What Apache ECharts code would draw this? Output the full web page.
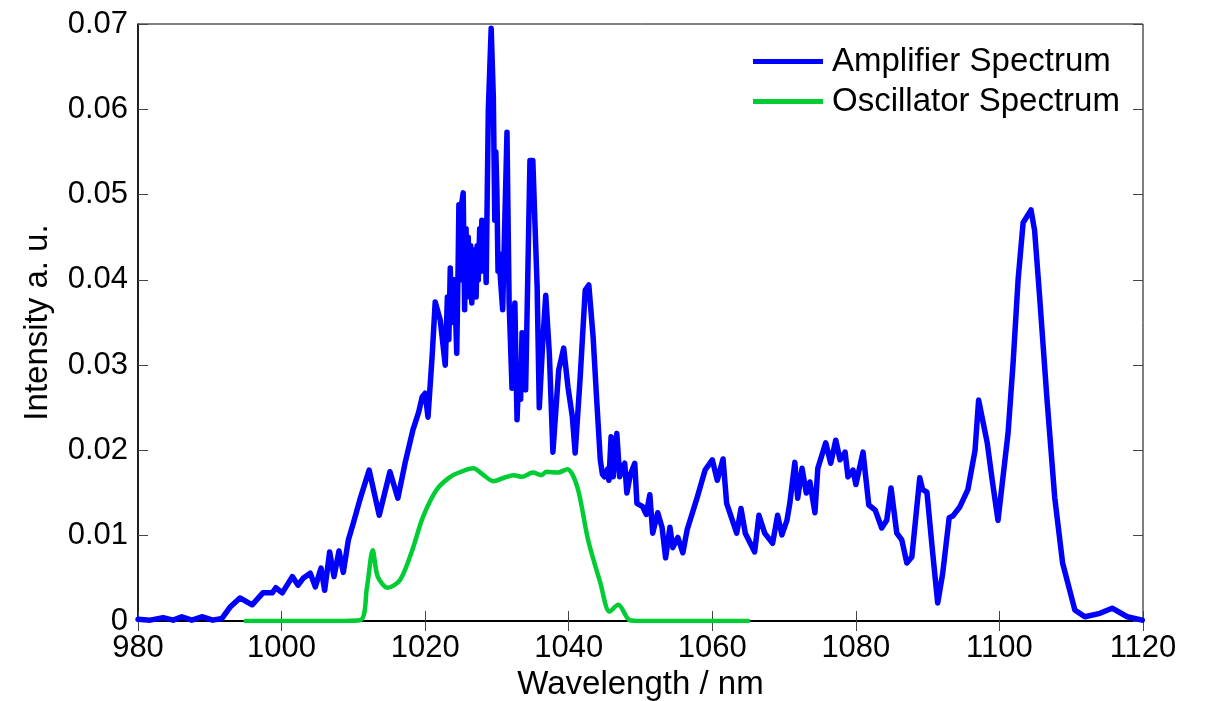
<!DOCTYPE html>
<html>
<head>
<meta charset="utf-8">
<script src="https://cdn.jsdelivr.net/npm/echarts@6/dist/echarts.min.js"></script>
<style>
  html, body { margin: 0; padding: 0; background: #fff; }
  #chart { width: 1212px; height: 701px; }
</style>
</head>
<body>
<div id="chart"></div>
<script>
// amplifier spectrum: [wavelength nm, intensity]
const ampSpectrum = [
  [980, 0.0002], [981.7, 0.0001], [983.5, 0.0004], [984.9, 0.0001], [986.1, 0.0005],
  [987.5, 0.0001], [988.9, 0.0005], [990.4, 0.0001], [991.7, 0.0003], [992.8, 0.0016],
  [994.2, 0.0027], [995.9, 0.0019], [997.4, 0.0033], [998.7, 0.0033], [999.2, 0.0039],
  [1000.1, 0.0033], [1001.5, 0.0052], [1002.3, 0.0042], [1003, 0.005], [1004, 0.0056],
  [1004.7, 0.004], [1005.5, 0.0062], [1006, 0.0036], [1006.7, 0.0081], [1007.3, 0.0052],
  [1008, 0.0082], [1008.6, 0.0057], [1009.3, 0.0095], [1010, 0.0115], [1010.9, 0.0142],
  [1012.2, 0.0177], [1013.6, 0.0124], [1015.1, 0.0175], [1016.2, 0.0144], [1017.2, 0.0185],
  [1018.3, 0.0224], [1019.1, 0.0245], [1019.6, 0.0263], [1020, 0.0267], [1020.4, 0.0239],
  [1021, 0.0314], [1021.4, 0.0374], [1022.1, 0.0353], [1022.8, 0.03], [1023.1, 0.038],
  [1023.3, 0.033], [1023.5, 0.0414], [1023.7, 0.035], [1023.9, 0.0361], [1024.1, 0.04],
  [1024.4, 0.0314], [1024.6, 0.042], [1024.7, 0.0488], [1024.9, 0.04], [1025.1, 0.049],
  [1025.3, 0.0502], [1025.5, 0.0365], [1025.7, 0.046], [1025.85, 0.038], [1026, 0.045],
  [1026.2, 0.039], [1026.35, 0.044], [1026.5, 0.0373], [1026.7, 0.043], [1026.9, 0.0435],
  [1027.1, 0.038], [1027.25, 0.044], [1027.4, 0.04], [1027.6, 0.046], [1027.75, 0.041],
  [1027.9, 0.047], [1028.1, 0.042], [1028.3, 0.0455], [1028.5, 0.0397], [1028.65, 0.05],
  [1028.8, 0.0599], [1029.2, 0.0695], [1029.5, 0.0614], [1029.7, 0.047], [1029.85, 0.055],
  [1030, 0.0502], [1030.15, 0.041], [1030.3, 0.0431], [1030.5, 0.04], [1030.8, 0.0365],
  [1031.1, 0.047], [1031.4, 0.0573], [1031.7, 0.0373], [1032.1, 0.0273], [1032.3, 0.034],
  [1032.5, 0.0373], [1032.65, 0.03], [1032.8, 0.0236], [1033.1, 0.03], [1033.3, 0.026],
  [1033.5, 0.0338], [1033.75, 0.029], [1034, 0.0271], [1034.6, 0.054], [1035, 0.054],
  [1035.6, 0.0392], [1035.9, 0.025], [1036.4, 0.033], [1036.8, 0.0382], [1037.3, 0.0314],
  [1037.8, 0.0198], [1038.6, 0.0294], [1039.3, 0.032], [1039.9, 0.0274], [1040.5, 0.024],
  [1040.9, 0.0197], [1041.6, 0.0286], [1042.3, 0.0388], [1042.8, 0.0394], [1043.4, 0.0333],
  [1043.9, 0.0259], [1044.4, 0.0189], [1044.7, 0.0172], [1045, 0.0169], [1045.4, 0.0178],
  [1045.6, 0.0165], [1045.9, 0.0216], [1046.2, 0.0169], [1046.7, 0.022], [1047.1, 0.0169],
  [1047.4, 0.018], [1047.8, 0.0185], [1048.1, 0.015], [1048.6, 0.0172], [1049.2, 0.0185],
  [1049.5, 0.0138], [1050.3, 0.0134], [1050.8, 0.0125], [1051.3, 0.0148], [1051.7, 0.0103],
  [1052.4, 0.0127], [1053, 0.011], [1053.5, 0.0074], [1054.1, 0.011], [1054.5, 0.0086],
  [1055.2, 0.0098], [1055.9, 0.008], [1056.5, 0.0107], [1057.9, 0.0145], [1059, 0.0177],
  [1060, 0.0189], [1060.7, 0.0165], [1061.5, 0.019], [1062, 0.0138], [1063.4, 0.0103],
  [1064, 0.0132], [1064.6, 0.0103], [1065.9, 0.0081], [1066.5, 0.0124], [1067.3, 0.0103],
  [1068.4, 0.0091], [1069.1, 0.0124], [1069.7, 0.0101], [1070.4, 0.0118], [1070.8, 0.0138],
  [1071.5, 0.0186], [1071.9, 0.0144], [1072.5, 0.0179], [1073.1, 0.015], [1073.6, 0.0163],
  [1074.3, 0.0127], [1074.7, 0.0179], [1075.8, 0.0209], [1076.5, 0.0185], [1077.2, 0.0212],
  [1077.8, 0.0189], [1078.5, 0.0198], [1078.9, 0.0169], [1079.6, 0.0177], [1080, 0.016],
  [1081, 0.0198], [1081.8, 0.0136], [1082.7, 0.013], [1083.6, 0.0109], [1084.3, 0.0118],
  [1084.9, 0.0156], [1085.7, 0.0103], [1086.4, 0.0095], [1087.1, 0.0068], [1087.8, 0.0075],
  [1088.9, 0.0168], [1089.3, 0.0154], [1089.9, 0.0151], [1090.7, 0.008], [1091.4, 0.0021],
  [1092.1, 0.0056], [1093, 0.0121], [1093.5, 0.0123], [1094.5, 0.0134], [1095.6, 0.0154],
  [1096.6, 0.02], [1097.1, 0.0259], [1098.3, 0.0209], [1099, 0.0165], [1099.8, 0.0118],
  [1101.2, 0.022], [1101.9, 0.0302], [1102.6, 0.04], [1103.3, 0.0467], [1104.4, 0.0482],
  [1104.9, 0.0458], [1105.6, 0.038], [1106.6, 0.0263], [1107.7, 0.0145], [1108.8, 0.0068],
  [1110.5, 0.0013], [1111.9, 0.0005], [1114, 0.0009], [1115.7, 0.0015], [1117.8, 0.0005],
  [1119.9, 0.0001]
];

// oscillator spectrum: [wavelength nm, intensity]
const oscSpectrum = [
  [995, 0], [1005, 0], [1010.9, 0.0001], [1011.9, 0.004], [1012.7, 0.0083],
  [1013.4, 0.0052], [1014.8, 0.0039], [1016.5, 0.0048], [1018.2, 0.0083], [1019.7, 0.0122],
  [1021.6, 0.0154], [1023.5, 0.0169], [1025, 0.0175], [1026.7, 0.0179], [1028, 0.0172],
  [1029.5, 0.0164], [1031, 0.0168], [1032.3, 0.0171], [1033.5, 0.0169], [1035, 0.0174],
  [1036.2, 0.0171], [1036.9, 0.0175], [1038.5, 0.0174], [1039.8, 0.0178], [1041.2, 0.0157],
  [1042.7, 0.0095], [1044.4, 0.0045], [1045.7, 0.0011], [1046.9, 0.0019], [1048.5, 0.0001],
  [1050, 0], [1065, 0]
];

const seriesNames = ['Amplifier Spectrum', 'Oscillator Spectrum'];
const xTicks = [980, 1000, 1020, 1040, 1060, 1080, 1100, 1120];

const FONT = 'Liberation Sans';
const chart = echarts.init(document.getElementById('chart'));

const xBase = { type: 'value', min: xTicks[0], max: xTicks[xTicks.length - 1], interval: 20 };
const yBase = { type: 'value', min: 0, max: 0.07, interval: 0.01 };
const tick = { inside: true, length: 10, lineStyle: { color: '#444', width: 1 } };

chart.setOption({
  animation: false,
  backgroundColor: '#fff',
  grid: {
    left: 138, right: 69, top: 24, bottom: 80,
    containLabel: false, outerBoundsMode: 'none',
    show: true, borderColor: '#000', borderWidth: 1
  },
  legend: {
    left: 753, top: 45, orient: 'vertical',
    icon: 'rect', itemWidth: 70, itemHeight: 5, itemGap: 7, padding: 0,
    textStyle: { fontFamily: FONT, fontSize: 33, color: '#000', padding: [0, 0, 0, 4] },
    data: seriesNames
  },
  xAxis: [
    Object.assign({}, xBase, {
      name: 'Wavelength / nm', nameLocation: 'middle', nameGap: 46,
      nameTextStyle: { fontFamily: FONT, fontSize: 33, color: '#000' },
      axisLine: { show: true, lineStyle: { color: '#000', width: 2 } },
      axisTick: tick,
      axisLabel: { fontFamily: FONT, fontSize: 31, color: '#000', margin: 12, formatter: v => String(v) },
      splitLine: { show: false }
    }),
    Object.assign({}, xBase, {
      position: 'top',
      axisLine: { show: false }, axisTick: tick,
      axisLabel: { show: false }, splitLine: { show: false }
    })
  ],
  yAxis: [
    Object.assign({}, yBase, {
      name: 'Intensity a. u.', nameLocation: 'middle', nameGap: 84, nameRotate: 90,
      nameTextStyle: { fontFamily: FONT, fontSize: 33, color: '#000' },
      axisLine: { show: true, lineStyle: { color: '#000', width: 1.5 } },
      axisTick: tick,
      axisLabel: { fontFamily: FONT, fontSize: 31, color: '#000', margin: 10 },
      splitLine: { show: false }
    }),
    Object.assign({}, yBase, {
      position: 'right',
      axisLine: { show: false }, axisTick: tick,
      axisLabel: { show: false }, splitLine: { show: false }
    })
  ],
  series: [
    {
      name: seriesNames[0], type: 'line', symbol: 'none',
      lineStyle: { color: '#0000ff', width: 5.5, join: 'round', cap: 'round' },
      itemStyle: { color: '#0000ff' },
      data: ampSpectrum
    },
    {
      name: seriesNames[1], type: 'line', symbol: 'none', smooth: 0.3,
      lineStyle: { color: '#00cc33', width: 4.5, join: 'round', cap: 'round' },
      itemStyle: { color: '#00cc33' },
      data: oscSpectrum
    }
  ]
});
</script>
</body>
</html>
